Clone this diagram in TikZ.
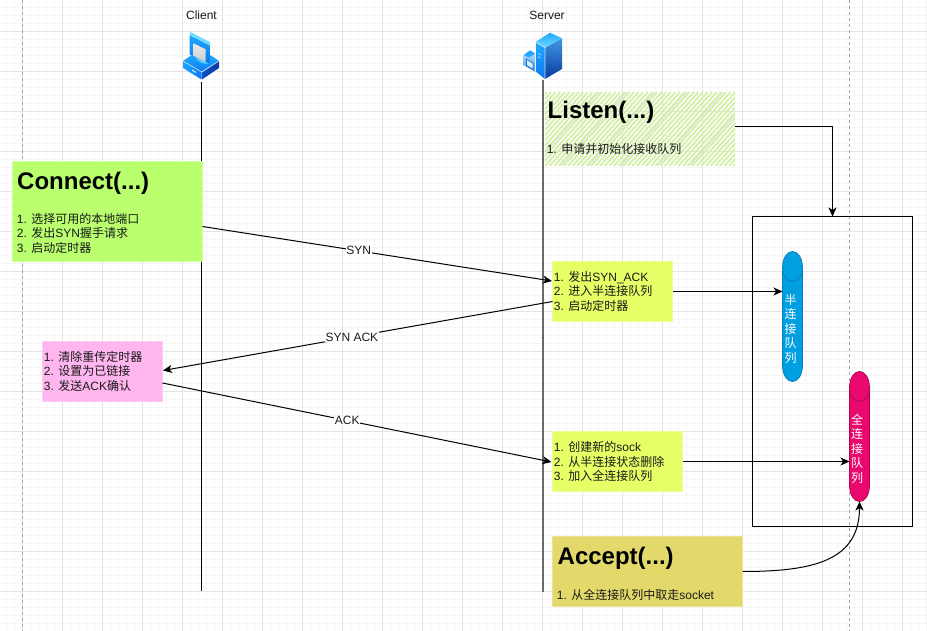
\documentclass[tikz,border=0pt]{standalone}
\usepackage{fontspec}
\setmainfont{Liberation Sans}
\newfontfamily\cjk{Noto Sans CJK SC}
\newcommand{\C}[1]{{\cjk #1}}
\usetikzlibrary{arrows.meta}
\normallineskiplimit=-100pt
\lineskiplimit=-100pt
\definecolor{gridmaj}{HTML}{E4E4E4}
\definecolor{gridmin}{HTML}{F5F5F5}
\definecolor{cgreen}{HTML}{B9FF6E}
\definecolor{chatch}{HTML}{D2F0A4}
\definecolor{cyellow}{HTML}{E6FF66}
\definecolor{cpink}{HTML}{FFB5EE}
\definecolor{caccept}{HTML}{E3D96B}
\definecolor{cblue}{HTML}{009FDF}
\definecolor{cblueb}{HTML}{0A7FB5}
\definecolor{cmag}{HTML}{E8086E}
\definecolor{cmagb}{HTML}{B0084F}
\definecolor{txtc}{HTML}{1A1A1A}
\definecolor{ia}{HTML}{6FDBFF}
\definecolor{ib}{HTML}{1FA8FF}
\definecolor{ic}{HTML}{0A78EE}
\definecolor{id}{HTML}{0A52C8}
\definecolor{ie}{HTML}{0A3A9E}
\definecolor{if}{HTML}{3F97E6}
\definecolor{ig}{HTML}{BFE4FF}
\tikzset{
  x=1pt,y=-1pt,
  tip/.style={-{Stealth[length=9pt,width=8pt,inset=2.5pt]}},
  conn/.style={draw=black,line width=1pt,tip},
  edgelabel/.style={fill=white,inner sep=0.5pt,font=\fontsize{12}{14}\selectfont,text=txtc},
  boxnode/.style={anchor=north west,inner sep=0,outer sep=0,line width=0.8pt},
  body/.style={anchor=north west,inner sep=0,align=left,text=txtc,font=\fontsize{12}{14.5}\selectfont},
  headline/.style={anchor=base west,inner sep=0,font=\fontsize{24}{28}\selectfont\bfseries,text=black},
  lifeline/.style={line width=1.5pt},
  cyl/.style={line width=0.8pt},
  cyltext/.style={align=center,inner sep=0,text=white,font=\fontsize{12}{14.5}\selectfont\cjk},
  icontitle/.style={inner sep=0,text=txtc,font=\fontsize{12}{14}\selectfont}
}
\begin{document}
\begin{tikzpicture}
\useasboundingbox (0,0) rectangle (927,631);
\fill[white] (0,0) rectangle (927,631);
% grid
\foreach \i in {0,...,115} {\draw[gridmin,line width=1pt] ({6.5+8*\i},0) -- ({6.5+8*\i},631);}
\foreach \i in {0,...,78} {\draw[gridmin,line width=1pt] (0,{7.5+8*\i}) -- (927,{7.5+8*\i});}
\foreach \i in {-1,...,22} {\draw[gridmaj,line width=1pt] ({62.5+40*\i},0) -- ({62.5+40*\i},631);}
\foreach \i in {0,...,15} {\draw[gridmaj,line width=1pt] (0,{31.5+40*\i}) -- (927,{31.5+40*\i});}
\draw[gray!70,dashed,line width=0.8pt] (22.5,0) -- (22.5,631);
\draw[gray!70,dashed,line width=0.8pt] (849.5,0) -- (849.5,631);

% icon anchors
\coordinate (clientbottom) at (201.5,82);
\coordinate (clientend) at (201.5,591);
\coordinate (serverbottom) at (543,80);
\coordinate (serverend) at (543,591.5);

% lifelines
\draw[lifeline,black] (clientbottom) -- (clientend);
\draw[line width=2pt,color=black!58] (serverbottom) -- (serverend);
\draw[line width=0.6pt,black!80] (541.5,337) -- (543,337);

% client icon
\node[icontitle] (clienttitle) at (201.5,15.5) {Client};
% base: top face
\shade[top color=ib,bottom color=ic] (183,61) -- (191,55.5) -- (211,55.5) -- (219,61) -- (201.5,72) -- cycle;
\draw[ig,line width=0.7pt] (183,61) -- (201.5,72) -- (219,61);
% base: faces
\shade[left color=ib,right color=ic] (183,61.5) -- (201.5,72.5) -- (201.5,79.5) -- (183,68) -- cycle;
\shade[left color=id,right color=ie] (202,72.5) -- (219,61.5) -- (219,68) -- (202,79.5) -- cycle;
\draw[white,line width=0.8pt] (192,70) -- (196,72.5);
% stand
\fill[ia!70!ib] (195,57) .. controls (197,62) and (205,65) .. (210,63.5) -- (210,60) -- (197,54) -- cycle;
% monitor
\shade[top color=ib,bottom color=ic] (189.5,35) -- (210,45.5) -- (210,64) -- (189.5,54.5) -- cycle;
\fill[ia] (189.5,35) -- (190.5,32) -- (210.5,42.5) -- (210,45.5) -- cycle;
\shade[top color=black!8,bottom color=black!20] (193.3,43.3) -- (205.7,49.3) -- (205.7,62.3) -- (193.3,55.7) -- cycle;

% server icon
\node[icontitle] (servertitle) at (547,15.5) {Server};
\shade[top color=if,bottom color=ie] (545,47.7) -- (562,38.3) -- (562,69) -- (545,79) -- cycle;
\shade[top color=ib,bottom color=ic] (536,42.7) -- (545,47.7) -- (545,79) -- (536,71.7) -- cycle;
\shade[top color=ib,bottom color=ia] (536,41.7) -- (550,32.7) -- (562,38.3) -- (545,47.7) -- cycle;
\draw[ig,line width=0.7pt] (536,42) -- (545,47.7) -- (545,79);
\draw[ig,line width=0.5pt] (538,53.5) -- (541,55);
\draw[ig,line width=0.5pt] (538,56.5) -- (541,58);
\shade[top color=ig,bottom color=if] (523.5,55) -- (530,50) -- (535,53.5) -- (535,71.7) -- (523.5,65) -- cycle;
\fill[ib] (524,55) -- (530,50.5) -- (535,53.5) -- (529,57.5) -- cycle;
\fill[id!60!if] (526,58.3) -- (533.3,63.3) -- (533.3,70) -- (526,65.7) -- cycle;
\fill[white!85!cyan] (527,60) -- (532.5,63.7) -- (532.5,68.5) -- (527,65) -- cycle;

% big container
\node[boxnode,draw=black,line width=1pt,minimum width=160pt,minimum height=310pt] (container) at (752.5,216.5) {};

% cylinders
\node[boxnode,minimum width=20pt,minimum height=130pt] (halfq) at (782.5,251.5) {};
\filldraw[cyl,fill=cblue,draw=cblueb] (782.5,268.5) .. controls (782.5,245.83) and (802.5,245.83) .. (802.5,268.5) -- (802.5,364.5) .. controls (802.5,387.17) and (782.5,387.17) .. (782.5,364.5) -- cycle;
\draw[cyl,cblueb] (782.5,268.5) .. controls (782.5,285.5) and (802.5,285.5) .. (802.5,268.5);
\node[cyltext] (halflabel) at (790.5,328.5) {半\\连\\接\\队\\列};

\node[boxnode,minimum width=20pt,minimum height=130pt] (fullq) at (849.5,371.5) {};
\filldraw[cyl,fill=cmag,draw=cmagb] (849.5,388.5) .. controls (849.5,365.83) and (869.5,365.83) .. (869.5,388.5) -- (869.5,484.5) .. controls (869.5,507.17) and (849.5,507.17) .. (849.5,484.5) -- cycle;
\draw[cyl,cmagb] (849.5,388.5) .. controls (849.5,405.5) and (869.5,405.5) .. (869.5,388.5);
\node[cyltext] (fulllabel) at (857,448.5) {全\\连\\接\\队\\列};

% Connect
\node[boxnode,fill=cgreen,draw=cgreen!70!white,minimum width=190pt,minimum height=100pt] (connect) at (12.5,161.5) {};
\node[headline] (connecttitle) at (17,190) {Connect(...)};
\node[body] (connecttext) at (16.7,213) {1. \C{选择可用的本地端口}\\2. \C{发出}SYN\C{握手请求}\\3. \C{启动定时器}};

% Listen
\node[boxnode,minimum width=190pt,minimum height=74pt] (listen) at (545,92) {};
\begin{scope}
\clip (545,92) rectangle (735,166);
\foreach \i in {-14,...,42} {\draw[color=chatch,line width=1.7pt] ({545+4.6*\i},166) -- ({545+4.6*\i+66},92);}
\foreach \i in {-3,3,9,16,24,31} {\draw[color=black!14,line width=0.7pt] ({545+4.6*\i+2},166) -- ({545+4.6*\i+68},92);}
\end{scope}
\node[headline] (listentitle) at (547.5,119) {Listen(...)};
\node[body] (listentext) at (546.6,143) {1. \C{申请并初始化接收队列}};

% SYN-ACK step
\node[boxnode,fill=cyellow,draw=cyellow!70!white,minimum width=120pt,minimum height=60pt] (synack) at (552.5,261.5) {};
\node[body] (synacktext) at (553.7,271) {1. \C{发出}SYN\_ACK\\2. \C{进入半连接队列}\\3. \C{启动定时器}};

% new sock step
\node[boxnode,fill=cyellow,draw=cyellow!70!white,minimum width=130pt,minimum height=60pt] (newsock) at (552.5,431.5) {};
\node[body] (newsocktext) at (553.7,441.3) {1. \C{创建新的}sock\\2. \C{从半连接状态删除}\\3. \C{加入全连接队列}};

% Accept
\node[boxnode,fill=caccept,draw=caccept!70!white,minimum width=190pt,minimum height=70pt] (accept) at (552.5,536.5) {};
\node[headline] (accepttitle) at (557.5,564) {Accept(...)};
\node[body] (accepttext) at (556.7,589) {1. \C{从全连接队列中取走}socket};

% client ack box
\node[boxnode,fill=cpink,draw=cpink!70!white,minimum width=120pt,minimum height=60pt] (clientack) at (42.5,341.5) {};
\node[body] (clientacktext) at (43.7,351) {1. \C{清除重传定时器}\\2. \C{设置为已链接}\\3. \C{发送}ACK\C{确认}};

% connectors
\coordinate (c1s) at (202.5,226.5);
\coordinate (c1e) at (552,281);
\coordinate (c2s) at (552.5,301.5);
\coordinate (c2e) at (163,370.5);
\coordinate (c3s) at (162.5,383);
\coordinate (c3e) at (551.5,462);
\draw[conn] (c1s) -- (c1e) node[edgelabel,pos=0.447] (synlabel) {SYN};
\draw[conn] (c2s) -- (c2e) node[edgelabel,pos=0.515] (synacklabel) {SYN ACK};
\draw[conn] (c3s) -- (c3e) node[edgelabel,pos=0.475] (acklabel) {ACK};
\draw[conn] (synack.east |- 0,291.5) -- (halfq.west |- 0,291.5);
\draw[conn] (newsock.east |- 0,461.5) -- (fullq.west |- 0,461.5);
\draw[conn] (listen.east |- 0,126.5) -- (832.5,126.5) -- (832.5,216.5);
\draw[conn] (accept.east |- 0,571.5) .. controls (815,571.5) and (859.5,560) .. (fullq.south);
\end{tikzpicture}
\end{document}
